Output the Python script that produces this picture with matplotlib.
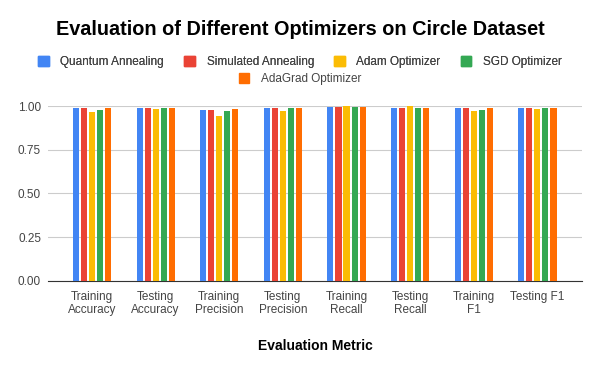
import matplotlib.pyplot as plt
import numpy as np
from matplotlib.patches import Patch

plt.rcParams['font.family'] = ['Liberation Sans', 'DejaVu Sans']

metrics = ["Training\nAccuracy", "Testing\nAccuracy", "Training\nPrecision", "Testing\nPrecision",
           "Training\nRecall", "Testing\nRecall", "Training\nF1", "Testing F1"]
optimizers = ["Quantum Annealing", "Simulated Annealing", "Adam Optimizer", "SGD Optimizer", "AdaGrad Optimizer"]

quantum = [0.990, 0.990, 0.978, 0.990, 0.995, 0.990, 0.990, 0.990]
simulated = [0.990, 0.990, 0.978, 0.990, 0.993, 0.990, 0.990, 0.990]
adam = [0.967, 0.985, 0.945, 0.972, 1.000, 0.998, 0.972, 0.984]
sgd = [0.980, 0.990, 0.972, 0.990, 0.995, 0.990, 0.980, 0.990]
adagrad = [0.990, 0.990, 0.983, 0.990, 0.997, 0.990, 0.990, 0.990]

colors = ["#4285F4", "#EA4335", "#FBBC04", "#34A853", "#FF6D01"]
series = [quantum, simulated, adam, sgd, adagrad]

fig = plt.figure(figsize=(6, 3.71), dpi=100)
ax = fig.add_axes([0.08, 0.243, 0.89, 0.471])

x = np.arange(len(metrics))
pitch = 0.126
width = 0.095
for i, (vals, c) in enumerate(zip(series, colors)):
    ax.bar(x + (i - 2) * pitch, vals, width=width, color=c, zorder=3, clip_on=False)

ax.set_xlim(-0.69, 7.70)
ax.set_ylim(0, 1.0)
ax.set_yticks([0, 0.25, 0.5, 0.75, 1.0])
ax.set_yticklabels(["0.00", "0.25", "0.50", "0.75", "1.00"])
ax.set_xticks(x)
ax.set_xticklabels(metrics)
ax.grid(axis='y', color='#cccccc', linewidth=0.8, zorder=0)
for s in ['top', 'right', 'left']:
    ax.spines[s].set_visible(False)
ax.spines['bottom'].set_color('#333333')
ax.tick_params(axis='both', length=0, labelsize=8.5, colors='#444444')
ax.tick_params(axis='y', pad=5)
ax.tick_params(axis='x', pad=7)
ax.set_xlabel("Evaluation Metric", fontsize=10, fontweight='bold', labelpad=16)

fig.suptitle("Evaluation of Different Optimizers on Circle Dataset", fontsize=14.3,
             fontweight='bold', x=0.5, y=0.945)

handles = [Patch(color=c) for c in colors]
leg_kw = dict(frameon=False, fontsize=8.5, handlelength=0.9, handleheight=0.9,
              handletextpad=1.0, columnspacing=1.7, labelcolor='#444444')
leg1 = fig.legend(handles[:4], optimizers[:4], ncol=4, loc='center',
                  bbox_to_anchor=(0.5, 0.833), **leg_kw)
fig.add_artist(leg1)
fig.legend(handles[4:], optimizers[4:], ncol=1, loc='center',
           bbox_to_anchor=(0.5, 0.787), **leg_kw)

fig.savefig("out.png", dpi=100)
